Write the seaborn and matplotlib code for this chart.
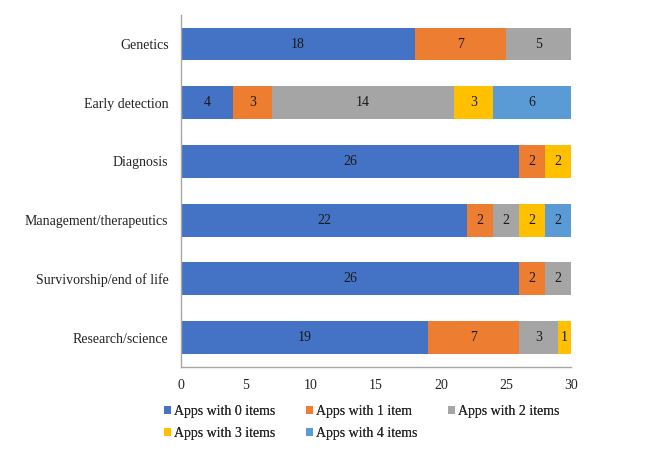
import numpy as np
import pandas as pd
import seaborn as sns
import matplotlib.pyplot as plt
from matplotlib.patches import Patch

# Categories (top to bottom) and counts for each series
categories = ["Genetics", "Early detection", "Diagnosis",
              "Management/therapeutics", "Survivorship/end of life", "Research/science"]
series_names = ["Apps with 0 items", "Apps with 1 item", "Apps with 2 items",
                "Apps with 3 items", "Apps with 4 items"]
apps0 = [18, 4, 26, 22, 26, 19]
apps1 = [7, 3, 2, 2, 2, 7]
apps2 = [5, 14, 0, 2, 2, 3]
apps3 = [0, 3, 2, 2, 0, 1]
apps4 = [0, 6, 0, 2, 0, 0]
colors = ["#4472C4", "#ED7D31", "#A5A5A5", "#FFC000", "#5B9BD5"]

sns.set_theme(style="white")
plt.rcParams["font.family"] = ["Liberation Serif", "DejaVu Serif"]

values = np.array([apps0, apps1, apps2, apps3, apps4])
cum = values.cumsum(axis=0)

fig = plt.figure(figsize=(6.5, 4.58), dpi=100)
ax = fig.add_axes([0.2785, 0.199, 0.6, 0.769])

# draw widest cumulative bar first, then overdraw the shorter ones
for k in range(len(series_names) - 1, -1, -1):
    df = pd.DataFrame({"category": categories, "total": cum[k]})
    sns.barplot(data=df, x="total", y="category", orient="h", color=colors[k],
                width=0.56, saturation=1, edgecolor="none", ax=ax)

# segment labels
for k in range(len(series_names)):
    for i, v in enumerate(values[k]):
        if v > 0:
            ax.text(cum[k][i] - v / 2, i, str(v), ha="center", va="center",
                    fontsize=10, color="#1a1a1a")

ax.set_xlim(0, 30)
ax.set_xticks([0, 5, 10, 15, 20, 25, 30])
ax.set_ylim(5.5, -0.5)
ax.set_xlabel("")
ax.set_ylabel("")
ax.tick_params(axis="both", length=0, labelsize=10, colors="#222222")
ax.tick_params(axis="x", pad=9)
ax.tick_params(axis="y", pad=9)
for s in ["top", "right"]:
    ax.spines[s].set_visible(False)
for s in ["left", "bottom"]:
    ax.spines[s].set_color("#A6A6A6")
    ax.spines[s].set_linewidth(1)

# legend laid out in fixed-width columns, row-major like the original
handles = [Patch(facecolor=c, edgecolor="none") for c in colors]
col_x = [164, 306, 448]
for col, idx in enumerate([[0, 3], [1, 4], [2]]):
    leg = fig.legend([handles[j] for j in idx], [series_names[j] for j in idx],
                     loc="upper left", bbox_to_anchor=(col_x[col] / 650, 1 - 405 / 458),
                     frameon=False, fontsize=10, handlelength=0.5, handleheight=0.5,
                     handletextpad=0.25, labelspacing=0.65, borderpad=0,
                     borderaxespad=0)
    fig.add_artist(leg)

fig.savefig("out.png", dpi=100)
